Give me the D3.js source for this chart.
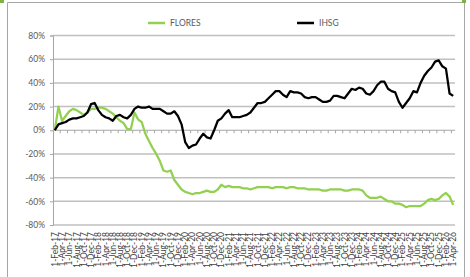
<!DOCTYPE html>
<html>
<head>
<meta charset="utf-8">
<script src="https://cdn.jsdelivr.net/npm/d3@7"></script>
<style>
  html, body { margin: 0; padding: 0; background: #fff; }
  svg text { font-family: Lato, "Liberation Sans", sans-serif; fill: #595959; }
</style>
</head>
<body>
<div id="chart"></div>
<script>
/* Cumulative return, FLORES vs IHSG, monthly from Feb-17 to Apr-26 */

const START = new Date(2017, 1, 1);
const END = new Date(2026, 4, 1); // exclusive
const months = d3.timeMonth.range(START, END);

const yTicks = [80, 60, 40, 20, 0, -20, -40, -60, -80];

const flores = [
  0, 20, 8, 12, 16, 18, 17, 15, 13, 15,
  18, 18, 19, 19, 18, 16, 14, 11, 8, 6,
  1, 1, 15, 9, 7, -3, -9, -15, -20, -26,
  -34, -35, -34, -42, -46, -50, -52, -53, -54, -53,
  -53, -52, -51, -52, -52, -50, -46, -48, -47, -48,
  -48, -48, -49, -49, -50, -49, -48, -48, -48, -48,
  -49, -48, -48, -48, -49, -48, -48, -49, -49, -49,
  -50, -50, -50, -50, -51, -51, -50, -50, -50, -50,
  -51, -51, -50, -50, -50, -51, -55, -57, -57, -57,
  -56, -58, -60, -60, -62, -62, -63, -65, -64, -64,
  -64, -64, -62, -59, -58, -59, -58, -55, -53, -56,
  -63
];

const ihsg = [
  0, 5, 6, 7, 9, 10, 10, 11, 12, 15,
  22, 23, 17, 13, 11, 10, 8, 12, 13, 11,
  10, 13, 18, 20, 19, 19, 20, 18, 18, 18,
  16, 14, 14, 16, 12, 5, -10, -15, -13, -12,
  -7, -3, -6, -7, 0, 8, 10, 14, 17, 11,
  11, 11, 12, 13, 15, 19, 23, 23, 24, 27,
  30, 33, 33, 30, 28, 33, 32, 32, 31, 28,
  27, 28, 28, 26, 24, 24, 25, 29, 29, 28,
  27, 31, 35, 34, 36, 35, 31, 30, 33, 38,
  41, 41, 35, 33, 32, 24, 19, 23, 27, 33,
  32, 40, 46, 50, 53, 58, 59, 54, 52, 31,
  29
];

const series = [
  { name: "FLORES", color: "#92d050", vals: flores },
  { name: "IHSG", color: "#000000", vals: ihsg },
];

const W = 470, H = 277;
const margin = { top: 35, right: 15, bottom: 52, left: 53 };
const fmt = d3.timeFormat("1-%b-%y");

const svg = d3.select("#chart").append("svg")
  .attr("width", W).attr("height", H)
  .attr("viewBox", `0 0 ${W} ${H}`);

// frame
svg.append("path")
  .attr("d", `M7.5,${H + 2}V2.5H464.5V${H + 2}`)
  .attr("fill", "none").attr("stroke", "#a6a6a6").attr("stroke-width", 1);
svg.append("rect").attr("x", 0).attr("y", 0).attr("width", 4).attr("height", 3).attr("fill", "#7cb342");
svg.append("rect").attr("x", 462).attr("y", 0).attr("width", 4).attr("height", 3).attr("fill", "#7cb342");

const x = d3.scaleBand()
  .domain(d3.range(months.length))
  .range([margin.left, W - margin.right]);
const y = d3.scaleLinear().domain([-80, 80]).range([225, 35.5]);

// grid
svg.append("g")
  .selectAll("line").data(yTicks.filter(d => d !== 0)).join("line")
  .attr("x1", margin.left).attr("x2", W - margin.right)
  .attr("y1", d => y(d)).attr("y2", d => y(d))
  .attr("stroke", "#c0c0c0").attr("stroke-width", 1.5);

// y axis
const yAxis = d3.axisLeft(y).tickValues(yTicks).tickSize(3).tickPadding(5)
  .tickFormat(d => d + "%");
const gy = svg.append("g").attr("transform", `translate(${margin.left},0)`).call(yAxis);
gy.select(".domain").attr("stroke", "#a6a6a6");
gy.selectAll(".tick line").attr("stroke", "#a6a6a6");
gy.selectAll("text").attr("font-size", 8.5).attr("fill", "#595959");

// x axis line at 0% with tick marks every two months
svg.append("line")
  .attr("x1", margin.left).attr("x2", W - margin.right)
  .attr("y1", y(0)).attr("y2", y(0))
  .attr("stroke", "#a6a6a6").attr("stroke-width", 1);
const tickIdx = d3.range(1, months.length, 2);
svg.append("g").selectAll("line").data(tickIdx).join("line")
  .attr("x1", i => x(i) + x.bandwidth())
  .attr("x2", i => x(i) + x.bandwidth())
  .attr("y1", y(0)).attr("y2", y(0) + 3)
  .attr("stroke", "#a6a6a6");

// x labels at the bottom, every two months
const labelIdx = d3.range(0, months.length, 2);
svg.append("g").selectAll("text").data(labelIdx).join("text")
  .attr("transform", i => `translate(${x(i) + x.bandwidth() / 2 + 3},232) rotate(-90)`)
  .attr("text-anchor", "end")
  .attr("font-size", 8.5)
  .style("fill", "#404040")
  .text(i => fmt(months[i]));

// lines
const line = d3.line()
  .x((d, i) => x(i) + x.bandwidth() / 2)
  .y(d => y(d));
series.forEach(s => {
  svg.append("path").datum(s.vals)
    .attr("fill", "none").attr("stroke", s.color)
    .attr("stroke-width", 2.25).attr("stroke-linejoin", "round")
    .attr("d", line);
});

// legend
const legendX = [148, 297];
series.forEach((s, k) => {
  const g = svg.append("g").attr("transform", `translate(${legendX[k]},23)`);
  g.append("line").attr("x1", 0).attr("x2", 17).attr("y1", 0).attr("y2", 0)
    .attr("stroke", s.color).attr("stroke-width", 2.5);
  g.append("text").attr("x", 22).attr("y", 3).attr("font-size", 8.5).text(s.name);
});
</script>
</body>
</html>
